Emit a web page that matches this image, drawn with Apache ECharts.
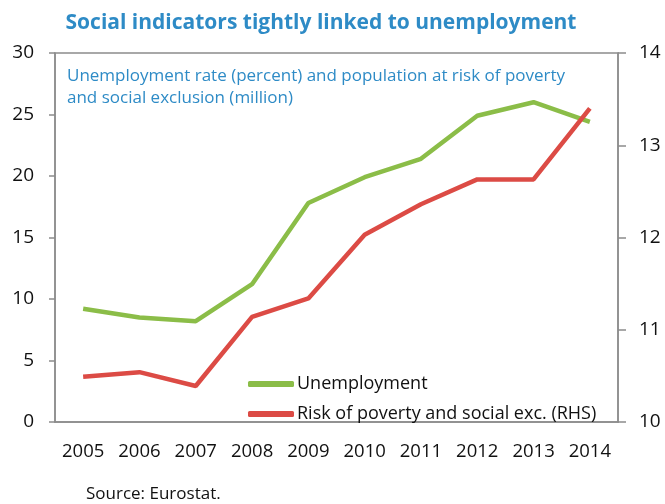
<!DOCTYPE html>
<html><head><meta charset="utf-8">
<script src="https://cdn.jsdelivr.net/npm/echarts@6/dist/echarts.min.js"></script>
<style>html,body{margin:0;padding:0;background:#fff}#c{width:665px;height:504px}</style>
</head><body><div id="c"></div>
<script>
const years = ['2005','2006','2007','2008','2009','2010','2011','2012','2013','2014'];
const unemployment = [9.2, 8.5, 8.2, 11.2, 17.8, 19.9, 21.4, 24.9, 26.0, 24.4];
const povertyRisk = [10.49, 10.54, 10.39, 11.14, 11.34, 12.03, 12.36, 12.63, 12.63, 13.40];
const leftTicks = [0, 30, 5];
const rightTicks = [10, 14, 1];

const font = '"Open Sans", "Liberation Sans", sans-serif';
const chart = echarts.init(document.getElementById('c'));
chart.setOption({
  animation: false,
  title: {
    text: 'Social indicators tightly linked to unemployment',
    left: 316, top: 8, textAlign: 'center',
    textStyle: {color: '#2E8BC6', fontSize: 21, fontWeight: 'bold', fontFamily: font}
  },
  grid: {left: 55, right: 47, top: 53, bottom: 82, show: true, borderColor: '#8c8c8c', borderWidth: 1.5},
  graphic: [
    {type: 'text', left: 67, top: 65, style: {text: 'Unemployment rate (percent) and population at risk of poverty\nand social exclusion (million)', fill: '#2E8BC6', font: '17px ' + font, lineHeight: 22}},
    {type: 'text', left: 86, top: 486, style: {text: 'Source: Eurostat.', fill: '#111', font: '17px ' + font}}
  ],
  legend: {
    left: 243, top: 369, orient: 'vertical', itemGap: 10, itemWidth: 46, itemHeight: 6,
    icon: 'roundRect',
    textStyle: {fontSize: 18, lineHeight: 20, color: '#111', fontFamily: font, padding: [0, 0, 0, -2]},
    data: ['Unemployment', 'Risk of poverty and social exc. (RHS)']
  },
  xAxis: {
    type: 'category', data: years, boundaryGap: true,
    axisLine: {lineStyle: {color: '#8c8c8c', width: 1.5}},
    axisTick: {length: 6, interval: 0, lineStyle: {color: '#8c8c8c', width: 1.5}},
    axisLabel: {color: '#111', fontSize: 18.5, fontFamily: font, margin: 20, interval: 0, hideOverlap: false}
  },
  yAxis: [
    {type: 'value', min: leftTicks[0], max: leftTicks[1], interval: leftTicks[2], position: 'left',
     axisLine: {show: true, lineStyle: {color: '#8c8c8c', width: 1.5}},
     axisTick: {show: true, length: 6, lineStyle: {color: '#8c8c8c', width: 1.5}},
     splitLine: {show: false},
     axisLabel: {color: '#111', fontSize: 19, fontFamily: font, margin: 21}},
    {type: 'value', min: rightTicks[0], max: rightTicks[1], interval: rightTicks[2], position: 'right',
     axisLine: {show: true, lineStyle: {color: '#8c8c8c', width: 1.5}},
     axisTick: {show: true, length: 8, lineStyle: {color: '#8c8c8c', width: 1.5}},
     splitLine: {show: false},
     axisLabel: {color: '#111', fontSize: 19, fontFamily: font, margin: 21}}
  ],
  series: [
    {name: 'Unemployment', type: 'line', data: unemployment, yAxisIndex: 0, showSymbol: false,
     lineStyle: {color: '#8BBD48', width: 4.5}, itemStyle: {color: '#8BBD48'}},
    {name: 'Risk of poverty and social exc. (RHS)', type: 'line', data: povertyRisk, yAxisIndex: 1, showSymbol: false,
     lineStyle: {color: '#DC4B45', width: 4.5}, itemStyle: {color: '#DC4B45'}}
  ]
});
</script></body></html>
